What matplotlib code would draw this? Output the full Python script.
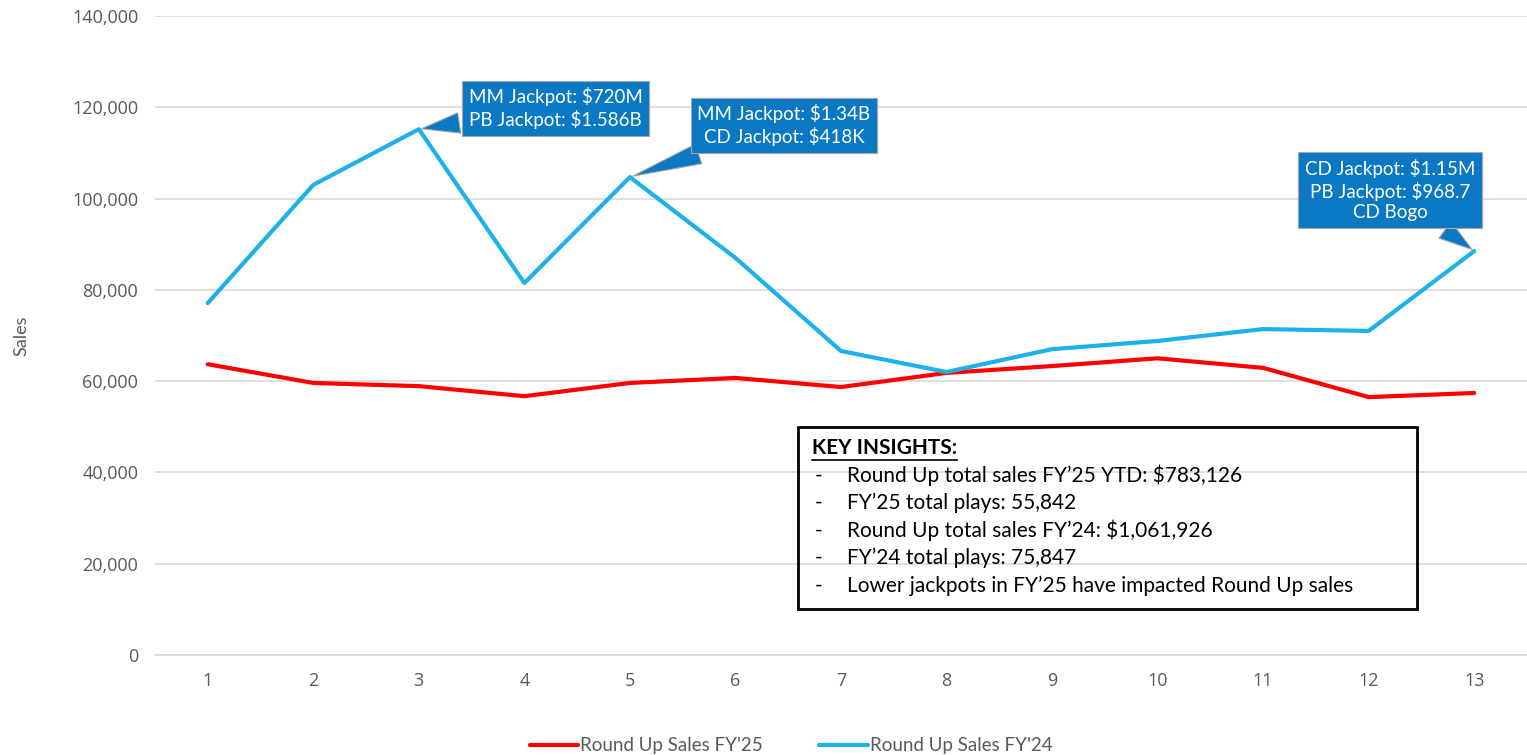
import matplotlib
matplotlib.use("Agg")
import matplotlib.pyplot as plt
from matplotlib.patches import Rectangle
from matplotlib.lines import Line2D
from matplotlib.ticker import FuncFormatter

# data
periods = list(range(1, 14))
sales_fy25 = [63700, 59600, 58900, 56700, 59600, 60700, 58700, 61800, 63300, 65000, 62900, 56500, 57400]
sales_fy24 = [77100, 103000, 115200, 81500, 104700, 87000, 66600, 62000, 67000, 68800, 71400, 71000, 88500]

callouts = [
    (3, "MM Jackpot: $720M\nPB Jackpot: $1.586B", (137, 21)),
    (5, "MM Jackpot: $1.34B\nCD Jackpot: $418K", (154, 52)),
    (13, "CD Jackpot: $1.15M\nPB Jackpot: $968.7\nCD Bogo", (-84, 61)),
]

insights = [
    "Round Up total sales FY\u201925 YTD: $783,126",
    "FY\u201925 total plays: 55,842",
    "Round Up total sales FY\u201924: $1,061,926",
    "FY\u201924 total plays: 75,847",
    "Lower jackpots in FY\u201925 have impacted Round Up sales",
]

red = "#FF0000"
blue = "#1DB1EA"
box_blue = "#0B78C4"
gray = "#595959"

plt.rcParams['font.family'] = ['Lato', 'DejaVu Sans']

fig = plt.figure(figsize=(15.27, 7.55), dpi=100)
ax = fig.add_axes([0.1015, 0.1325, 0.8985, 0.8463])

ax.plot(periods, sales_fy25, color=red, lw=3, label="Round Up Sales FY'25", solid_capstyle='round')
ax.plot(periods, sales_fy24, color=blue, lw=3, label="Round Up Sales FY'24", solid_capstyle='round')

ax.set_xlim(0.5, 13.5)
ax.set_ylim(0, 140000)
ax.set_yticks(range(0, 140001, 20000))
ax.set_xticks(periods)
ax.yaxis.set_major_formatter(FuncFormatter(lambda v, p: f"{int(v):,}"))
ax.grid(axis='y', color='#D9D9D9', lw=1.2)
ax.set_axisbelow(True)
for s in ['top', 'right', 'left']:
    ax.spines[s].set_visible(False)
ax.spines['bottom'].set_color('#D9D9D9')
ax.spines['bottom'].set_linewidth(1.2)
ax.tick_params(axis='both', length=0, colors=gray, labelsize=13, pad=12)
for lbl in ax.get_xticklabels() + ax.get_yticklabels():
    lbl.set_family(['Open Sans', 'DejaVu Sans'])
ax.set_ylabel("Sales", color=gray, fontsize=13, labelpad=31)

# callouts
for x, txt, off in callouts:
    y = sales_fy24[periods.index(x)]
    ax.annotate(txt, xy=(x, y), xytext=off, textcoords='offset pixels',
                ha='center', va='center', color='white', fontsize=13.5, linespacing=1.25,
                bbox=dict(boxstyle='square,pad=0.35', fc=box_blue, ec='#A6A6A6', lw=0.8),
                arrowprops=dict(arrowstyle='wedge,tail_width=1.1,shrink_factor=0.5',
                                fc=box_blue, ec='#A6A6A6', lw=0.8))

# key insights box
fig.patches.append(Rectangle((0.5226, 0.1934), 0.4054, 0.241, transform=fig.transFigure,
                             fill=False, ec='black', lw=2))
top = 1 - 448 / 755
step = 27.5 / 755
t = fig.text(0.5318, top, "KEY INSIGHTS:", fontsize=15, fontweight='bold', va='center', color='black')
fig.canvas.draw()
bb = t.get_window_extent().transformed(fig.transFigure.inverted())
fig.add_artist(Line2D([bb.x0, bb.x1], [bb.y0 - 0.002, bb.y0 - 0.002], color='black', lw=1.2,
                      transform=fig.transFigure))
for i, line in enumerate(insights):
    yy = top - step * (i + 1)
    fig.text(0.5335, yy, "-", fontsize=15, va='center', color='black')
    fig.text(0.5545, yy, line, fontsize=15, va='center', color='black')

leg = fig.legend(loc='center', bbox_to_anchor=(0.518, 0.012), ncol=2, frameon=False,
                 fontsize=13.5, handlelength=2.6, handletextpad=0.1, columnspacing=3.0)
for t in leg.get_texts():
    t.set_color(gray)

fig.savefig("out.png", dpi=100)
